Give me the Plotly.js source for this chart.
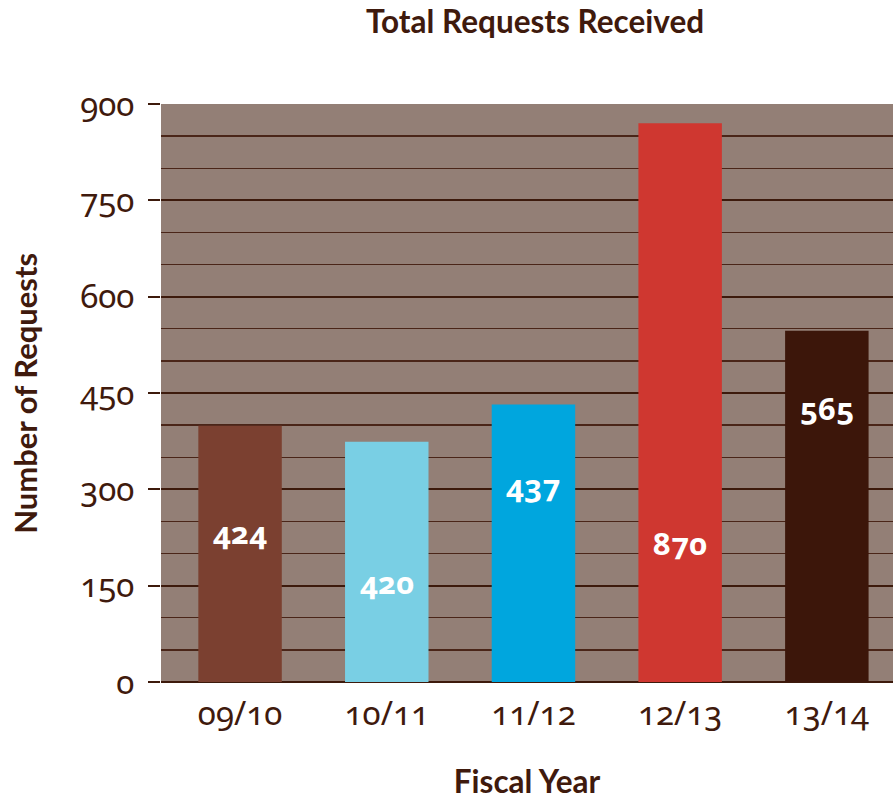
<!DOCTYPE html>
<html>
<head>
<meta charset="utf-8">
<script src="https://cdn.plot.ly/plotly-3.0.1.min.js"></script>
<style>
  html, body { margin: 0; padding: 0; background: #ffffff; }
  #chart { width: 893px; height: 800px; }
  .xtick text, .ytick text, .annotation-text { font-variant-numeric: oldstyle-nums; font-feature-settings: "onum" 1; }
</style>
</head>
<body>
<div id="chart"></div>
<script>
// Data
const years = ['09/10', '10/11', '11/12', '12/13', '13/14'];
const barHeights = [399, 374, 432, 870, 547];     // drawn bar heights
const labelTexts = ['424', '420', '437', '870', '565']; // printed labels
const labelY = [233, 155, 306, 217, 426];          // label positions (data units)
const barColors = ['#7b4030', '#79cfe4', '#00a6de', '#cf3730', '#3c160a'];
const yTicks = [0, 150, 300, 450, 600, 750, 900];

const ink = '#3f1a0d';
const fontFam = 'Lato, "Open Sans", sans-serif';
const numFam = '"Noto Sans", Lato, sans-serif';

const trace = {
  type: 'bar',
  x: years,
  y: barHeights,
  marker: { color: barColors, line: { width: 0 } },
  hoverinfo: 'x+y'
};

const annotations = years.map((yr, i) => ({
  x: yr, y: labelY[i], xref: 'x', yref: 'y',
  text: '<b>' + labelTexts[i] + '</b>',
  showarrow: false, xanchor: 'center', yanchor: 'middle',
  font: { family: numFam, size: 31, color: '#ffffff' }
}));

annotations.push({
  x: -0.186, y: 0.5, xref: 'paper', yref: 'paper',
  text: '<b>Number of Requests</b>', textangle: -90,
  showarrow: false, xanchor: 'center', yanchor: 'middle',
  font: { family: fontFam, size: 31, color: ink }
});

const layout = {
  width: 893, height: 800,
  margin: { l: 161, r: 0, t: 104, b: 118, pad: 0 },
  paper_bgcolor: '#ffffff',
  plot_bgcolor: '#937f76',
  showlegend: false,
  bargap: 0.431,
  title: {
    text: '<b>Total Requests Received</b>',
    font: { family: fontFam, size: 31.5, color: ink },
    x: 0.511, xref: 'paper', xanchor: 'center',
    y: 0.972, yref: 'container', yanchor: 'middle'
  },
  xaxis: {
    type: 'category',
    range: [-0.539, 4.451],
    showgrid: false, zeroline: false, showline: false,
    ticks: '',
    tickfont: { family: numFam, size: 33, color: ink },
    ticklabelstandoff: 9,
    title: {
      text: '<b>Fiscal Year</b>',
      font: { family: fontFam, size: 31.5, color: ink },
      standoff: 36
    },
    fixedrange: true
  },
  yaxis: {
    range: [0, 900],
    tickvals: yTicks,
    ticktext: yTicks.map(String),
    showgrid: true, gridcolor: '#3d1a0c', gridwidth: 2,
    minor: { dtick: 50, tick0: 0, showgrid: true, gridcolor: '#4a2518', gridwidth: 1.4, ticks: '' },
    zeroline: true, zerolinecolor: '#3d1a0c', zerolinewidth: 2,
    showline: false,
    ticks: 'outside', ticklen: 12, tickwidth: 2, tickcolor: '#3d1a0c',
    tickfont: { family: numFam, size: 33, color: ink },
    ticklabelstandoff: 7,
    fixedrange: true
  },
  annotations: annotations
};

Plotly.newPlot('chart', [trace], layout, { displayModeBar: false, staticPlot: true });
</script>
</body>
</html>
